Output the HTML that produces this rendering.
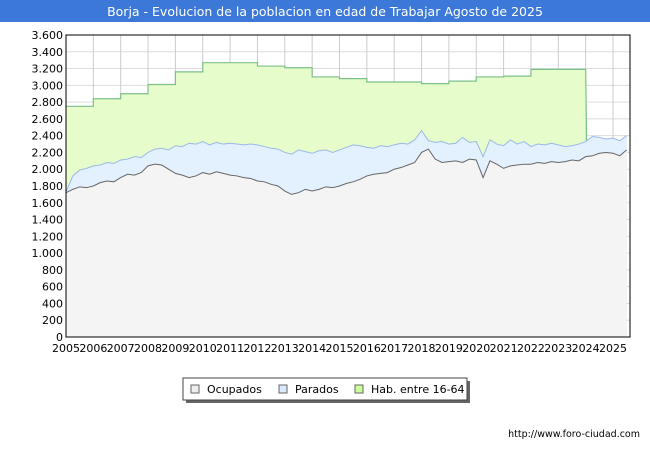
<!DOCTYPE html>
<html><head><meta charset="utf-8"><style>
body{margin:0;width:650px;height:450px;background:#fff;font-family:"DejaVu Sans","Liberation Sans",sans-serif;overflow:hidden}
svg text{font-family:"DejaVu Sans","Liberation Sans",sans-serif}
</style></head><body>
<svg width="650" height="450" xmlns="http://www.w3.org/2000/svg" id="chart">
<rect x="0" y="0" width="650" height="22" fill="#3b78d8"/>
<text x="325" y="16" text-anchor="middle" fill="#fff" font-size="12.5">Borja - Evolucion de la poblacion en edad de Trabajar Agosto de 2025</text>
<g id="grid"></g><g id="series"></g><g id="axes"></g>
<rect x="66" y="35" width="564" height="302" fill="none" stroke="#000" stroke-width="1"/>
<g>
<rect x="186" y="381" width="284" height="22" fill="#666"/>
<rect x="183" y="378" width="284" height="22" fill="#fff" stroke="#444"/>
<rect x="191" y="385" width="8" height="8" fill="#eee" stroke="#666"/>
<text x="207" y="393" font-size="11">Ocupados</text>
<rect x="279" y="385" width="8" height="8" fill="#dbeaff" stroke="#666"/>
<text x="295" y="393" font-size="11">Parados</text>
<rect x="355" y="385" width="8" height="8" fill="#ccff99" stroke="#666"/>
<text x="371" y="393" font-size="11">Hab. entre 16-64</text>
</g>
<text x="640" y="437" text-anchor="end" font-size="9.5">http://www.foro-ciudad.com</text>
</svg>
<script>
const years=[2005,2006,2007,2008,2009,2010,2011,2012,2013,2014,2015,2016,2017,2018,2019,2020,2021,2022,2023,2024,2025];
const habValues=[2750,2840,2900,3010,3160,3270,3270,3230,3210,3100,3080,3040,3040,3020,3050,3100,3110,3190,3190];
const ocupados=[1720,1760,1790,1780,1800,1840,1860,1850,1900,1940,1930,1960,2040,2060,2050,2000,1950,1930,1900,1920,1960,1940,1970,1950,1930,1920,1900,1890,1860,1850,1820,1800,1740,1700,1720,1760,1740,1760,1790,1780,1800,1830,1850,1880,1920,1940,1950,1960,2000,2020,2050,2080,2200,2240,2120,2080,2090,2100,2080,2120,2110,1900,2100,2060,2010,2040,2050,2060,2060,2080,2070,2090,2080,2090,2110,2100,2150,2160,2190,2200,2190,2160,2230];
const activos=[1730,1920,1990,2010,2040,2050,2080,2070,2110,2120,2150,2140,2200,2240,2250,2230,2280,2270,2310,2300,2330,2290,2320,2300,2310,2300,2290,2300,2290,2270,2250,2240,2200,2180,2230,2210,2190,2220,2230,2200,2230,2260,2290,2280,2260,2250,2280,2270,2290,2310,2300,2350,2460,2340,2320,2330,2300,2310,2380,2320,2330,2150,2350,2300,2280,2350,2300,2330,2270,2300,2290,2310,2290,2270,2280,2300,2330,2390,2380,2360,2370,2340,2400];
const yTicks=[0,200,400,600,800,1000,1200,1400,1600,1800,2000,2200,2400,2600,2800,3000,3200,3400,3600];
const yLabels=["0","200","400","600","800","1.000","1.200","1.400","1.600","1.800","2.000","2.200","2.400","2.600","2.800","3.000","3.200","3.400","3.600"];
const NS="http://www.w3.org/2000/svg";
const X0=66,X1=630,Y0=337,Y1=35;
const xs=t=>X0+(t-2005)*(613-66)/20;
const ys=v=>Y0-(v/3600)*(Y0-Y1);
function mk(tag,attrs,parent){const e=document.createElementNS(NS,tag);for(const k in attrs)e.setAttribute(k,attrs[k]);parent.appendChild(e);return e;}
const grid=document.getElementById('grid'),ser=document.getElementById('series'),axes=document.getElementById('axes');
mk('rect',{x:X0,y:Y1,width:X1-X0,height:Y0-Y1,fill:'#fff'},grid);
yTicks.forEach((v,i)=>{const l=mk('line',{x1:X0,x2:X1,y1:ys(v),y2:ys(v),stroke:'#ddd'},grid);


const t=mk('text',{x:X0-3,y:ys(v)+4,'text-anchor':'end','font-size':11},axes);t.textContent=yLabels[i];

});
years.forEach(y=>{const l=mk('line',{x1:xs(y),x2:xs(y),y1:Y1,y2:Y0,stroke:'#ccc'},grid);


const t=mk('text',{x:xs(y),y:Y0+15,'text-anchor':'middle','font-size':11},axes);t.textContent=y;

});
const tq=i=>2005+i*0.25;
let hp=[];habValues.forEach((v,i)=>{hp.push([xs(2005+i),ys(v)]);hp.push([xs(2006+i),ys(v)]);});
const lastQ=activos.length-1;
let habLine='M'+hp.map(p=>p.join(',')).join(' L');
const tail=[];for(let i=76;i<=lastQ;i++)tail.push([xs(tq(i)),ys(activos[i])]);
let habArea=habLine+' L'+tail.map(p=>p.join(',')).join(' L')+` L${xs(tq(lastQ))},${Y0} L${X0},${Y0} Z`;
const ha=mk('path',{d:habArea,fill:'#e6fccb'},ser);


const hl=mk('path',{d:habLine+` L${xs(2024)+1},${ys(activos[76])}`,fill:'none',stroke:'#7cc08a','stroke-width':1.2},ser);


const aPts=activos.map((v,i)=>[xs(tq(i)),ys(v)]);
const oPts=ocupados.map((v,i)=>[xs(tq(i)),ys(v)]);
const pa=mk('path',{d:'M'+aPts.map(p=>p.join(',')).join(' L')+` L${aPts[lastQ][0]},${Y0} L${X0},${Y0} Z`,fill:'#e3f0fd'},ser);


const pl=mk('path',{d:'M'+aPts.map(p=>p.join(',')).join(' L'),fill:'none',stroke:'#9bb9e8','stroke-width':1},ser);


const oa=mk('path',{d:'M'+oPts.map(p=>p.join(',')).join(' L')+` L${oPts[lastQ][0]},${Y0} L${X0},${Y0} Z`,fill:'#f4f4f4'},ser);


const ol=mk('path',{d:'M'+oPts.map(p=>p.join(',')).join(' L'),fill:'none',stroke:'#666','stroke-width':1},ser);


</script>
</body></html>
